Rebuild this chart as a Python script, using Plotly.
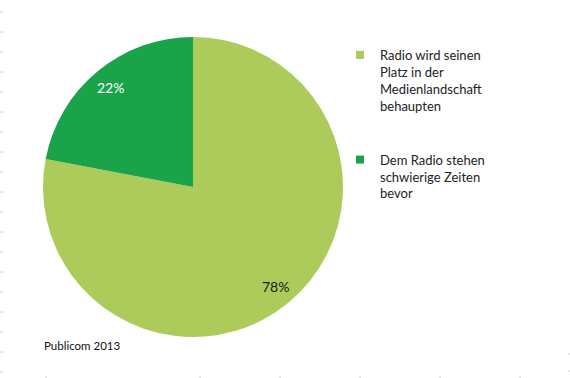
import math
import plotly.graph_objects as go

categories = ["Radio wird seinen<br>Platz in der<br>Medienlandschaft<br>behaupten",
              "Dem Radio stehen<br>schwierige Zeiten<br>bevor"]
values = [78, 22]
colors = ["#adcb5b", "#1ba34a"]
label_colors = ["#1a1a1a", "#ffffff"]
source_text = "Publicom 2013"

W, H = 570, 378
cx, cy, R = 193, 187, 150

fig = go.Figure()
fig.add_trace(go.Pie(
    values=values, labels=categories, sort=False, direction="clockwise", rotation=0,
    marker=dict(colors=colors, line=dict(width=0)), textinfo="none", showlegend=False,
    domain=dict(x=[(cx - R) / W, (cx + R) / W], y=[1 - (cy + R) / H, 1 - (cy - R) / H]),
    hoverinfo="label+percent",
))

# legend entries
for i, (cat, col) in enumerate(zip(categories, colors)):
    fig.add_trace(go.Scatter(x=[None], y=[None], mode="markers", name=cat,
                             marker=dict(symbol="square", size=8, color=col),
                             legendgroup=f"g{i}", showlegend=True))

# percent labels
total = sum(values)
start = 0.0
annotations = []
for v, tc in zip(values, label_colors):
    mid = (start + v / 2) / total * 2 * math.pi
    start += v
    px = cx + 0.86 * R * math.sin(mid)
    py = cy - 0.86 * R * math.cos(mid)
    annotations.append(dict(x=px / W, y=1 - py / H, xref="paper", yref="paper",
                            xanchor="center", yanchor="middle",
                            text=f"{round(v / total * 100)}%", showarrow=False,
                            font=dict(size=14, color=tc, family="Lato")))
annotations.append(dict(x=42 / W, y=1 - 345 / H, xref="paper", yref="paper",
                        xanchor="left", yanchor="middle",
                        text=source_text, showarrow=False,
                        font=dict(size=11.5, color="#111111", family="Lato")))

shapes = []
for k in range(19):
    y = 12 + 20 * k
    shapes.append(dict(type="line", xref="paper", yref="paper", x0=0, x1=3 / W,
                       y0=1 - y / H, y1=1 - y / H, line=dict(color="#d0d0d0", width=1)))
for x in [46, 200, 280, 360, 440, 520]:
    shapes.append(dict(type="line", xref="paper", yref="paper", x0=x / W, x1=x / W,
                       y0=0, y1=2 / H, line=dict(color="#d0d0d0", width=1)))
for y in [354, 371]:
    shapes.append(dict(type="line", xref="paper", yref="paper", x0=1 - 2 / W, x1=1,
                       y0=1 - y / H, y1=1 - y / H, line=dict(color="#d0d0d0", width=1)))

fig.update_layout(
    width=W, height=H, margin=dict(l=0, r=0, t=0, b=0),
    paper_bgcolor="white", plot_bgcolor="white",
    xaxis=dict(visible=False), yaxis=dict(visible=False),
    legend=dict(x=340 / W, y=1 - 40 / H, xanchor="left", yanchor="top",
                bgcolor="rgba(0,0,0,0)",
                traceorder="grouped", tracegroupgap=34, valign="top",
                font=dict(size=13, color="#222222", family="Lato"),
                itemclick=False, itemdoubleclick=False),
    annotations=annotations, shapes=shapes,
    font=dict(family="Lato"),
)

fig.write_html("out.html", config={"displayModeBar": False},
               post_script="document.body.style.margin='0';")
